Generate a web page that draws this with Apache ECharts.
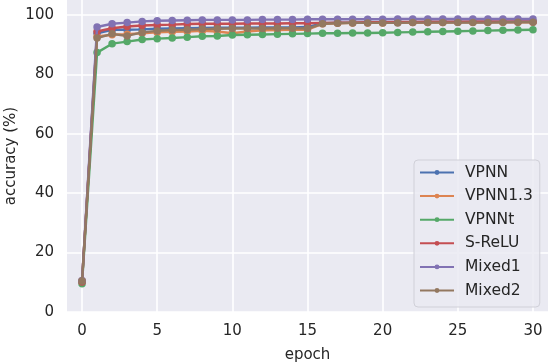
<!DOCTYPE html>
<html><head><meta charset="utf-8">
<script src="https://cdn.jsdelivr.net/npm/echarts@6/dist/echarts.min.js"></script>
<style>html,body{margin:0;padding:0;background:#fff}#c{width:550px;height:364px}</style>
</head><body><div id="c"></div>
<script>
const epochs = [0,1,2,3,4,5,6,7,8,9,10,11,12,13,14,15,16,17,18,19,20,21,22,23,24,25,26,27,28,29,30];
const xTicks = [0,5,10,15,20,25,30];
const yTicks = [0,20,40,60,80,100];
const VPNN = [10.3,93.8,95.0,95.0,95.1,95.3,95.4,95.5,95.6,95.7,95.7,95.7,95.8,95.8,95.8,95.9,97.2,97.4,97.4,97.5,97.5,97.5,97.5,97.6,97.6,97.6,97.6,97.6,97.6,97.7,97.7];
const VPNN1_3 = [10.5,92.7,93.3,93.5,93.8,94.1,94.3,94.4,94.6,94.4,93.8,94.4,94.8,94.9,95.0,95.0,97.0,97.2,97.3,97.3,97.3,97.4,97.4,97.4,97.4,97.5,97.5,97.5,97.5,97.5,97.5];
const VPNNt = [9.5,87.3,90.3,91.0,91.7,92.0,92.2,92.5,92.8,92.9,93.2,93.3,93.4,93.5,93.6,93.7,93.8,93.8,93.9,93.9,94.0,94.1,94.2,94.3,94.4,94.5,94.6,94.7,94.8,94.9,95.0];
const SReLU = [10.1,94.4,95.5,96.1,96.4,96.6,96.7,96.9,97.0,97.0,97.0,97.1,97.1,97.1,97.2,97.2,97.3,97.4,97.4,97.5,97.5,97.6,97.6,97.7,97.7,97.7,97.8,97.8,97.8,97.8,97.8];
const Mixed1 = [10.6,95.9,97.0,97.4,97.8,98.0,98.1,98.2,98.3,98.3,98.3,98.3,98.4,98.4,98.4,98.5,98.5,98.5,98.5,98.5,98.5,98.6,98.6,98.6,98.6,98.6,98.6,98.6,98.6,98.6,98.6];
const Mixed2 = [10.4,92.2,93.6,92.9,94.1,94.6,94.9,95.0,95.2,95.3,95.4,95.4,95.4,95.5,95.5,95.4,97.0,97.2,97.3,97.3,97.3,97.3,97.4,97.4,97.4,97.4,97.4,97.4,97.5,97.5,97.5];
const seriesNames = ['VPNN','VPNN1.3','VPNNt','S-ReLU','Mixed1','Mixed2'];
const seriesData = [VPNN, VPNN1_3, VPNNt, SReLU, Mixed1, Mixed2];
const colors = ['#4C72B0','#DD8452','#55A868','#C44E52','#8172B3','#937860'];

const font = 'DejaVu Sans';
const txt = '#262626';
const chart = echarts.init(document.getElementById('c'), null, {renderer:'canvas'});
chart.setOption({
  animation: false,
  color: colors,
  textStyle: {fontFamily: font},
  grid: {left: 67, right: 2, top: 0, bottom: 52, show: true, backgroundColor: '#EAEAF2', borderWidth: 0,
         containLabel: false, outerBoundsMode: 'none'},
  xAxis: {
    type: 'value', min: -1, max: 31,
    name: 'epoch', nameLocation: 'middle', nameGap: 36, nameMoveOverlap: false,
    nameTextStyle: {fontFamily: font, fontSize: 15, color: txt},
    axisLine: {show: false}, axisTick: {show: false, customValues: xTicks},
    axisLabel: {customValues: xTicks, fontFamily: font, fontSize: 15, color: txt, margin: 12},
    splitLine: {show: true, lineStyle: {color: '#ffffff', width: 1.6}}
  },
  yAxis: {
    type: 'value', min: 0, max: 105,
    name: 'accuracy (%)', nameLocation: 'middle', nameGap: 48, nameRotate: 90, nameMoveOverlap: false,
    nameTextStyle: {fontFamily: font, fontSize: 15, color: txt},
    axisLine: {show: false}, axisTick: {show: false, customValues: yTicks},
    axisLabel: {customValues: yTicks, fontFamily: font, fontSize: 15, color: txt, margin: 13},
    splitLine: {show: true, lineStyle: {color: '#ffffff', width: 1.6}}
  },
  legend: {
    orient: 'vertical', left: 414, top: 160,
    padding: [4, 7, 8, 5],
    itemWidth: 34, itemHeight: 6, itemGap: 6.6,
    backgroundColor: 'rgba(234,234,242,0.85)', borderColor: '#d0d0d8', borderWidth: 1, borderRadius: 4,
    textStyle: {fontFamily: font, fontSize: 15.5, color: txt, lineHeight: 17, padding: [0,0,0,6]},
    data: seriesNames
  },
  series: seriesNames.map((n, i) => ({
    name: n, type: 'line',
    data: epochs.map((e, j) => [e, seriesData[i][j]]),
    symbol: 'circle', symbolSize: 7.5,
    lineStyle: {width: 2.4},
    itemStyle: {color: colors[i]},
    z: 2 + i
  }))
});
</script></body></html>
